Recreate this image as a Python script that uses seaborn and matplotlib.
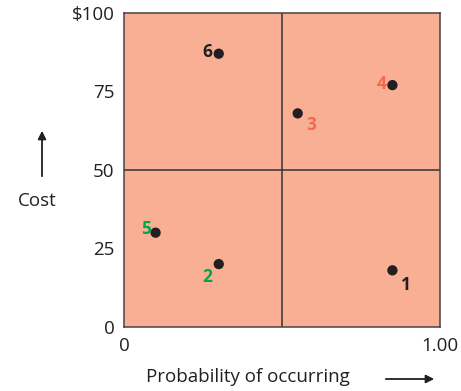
import matplotlib
matplotlib.use("Agg")
import matplotlib.pyplot as plt
import seaborn as sns
import pandas as pd

# risk points
labels = ["1", "2", "3", "4", "5", "6"]
prob = [0.85, 0.30, 0.55, 0.85, 0.10, 0.30]
cost = [18, 20, 68, 77, 30, 87]
label_colors = ["#231F20", "#00A651", "#F26A4B", "#F26A4B", "#00A651", "#231F20"]
y_ticks = [0, 25, 50, 75, 100]
y_tick_labels = ["0", "25", "50", "75", "$100"]
x_ticks = [0, 1]
x_tick_labels = ["0", "1.00"]

df = pd.DataFrame({"label": labels, "prob": prob, "cost": cost})

sns.set_style("white")
plt.rcParams["font.family"] = ["Open Sans", "DejaVu Sans"]

fig = plt.figure(figsize=(4.61, 3.91), dpi=100)
ax = fig.add_axes([0.269, 0.164, 0.685, 0.803])
ax.set_facecolor("#F8AF94")

# quadrant lines
ax.axvline(0.5, color="#333333", lw=1.1, zorder=1)
ax.axhline(50, color="#333333", lw=1.1, zorder=1)

sns.scatterplot(data=df, x="prob", y="cost", ax=ax, color="#231F20",
                s=55, edgecolor="none", zorder=3, legend=False)

# label offsets in points (dx, dy, ha, va)
offsets = {
    "1": (6, -4, "left", "top"),
    "2": (-5, -3, "right", "top"),
    "3": (6, -2, "left", "top"),
    "4": (-4, 1, "right", "center"),
    "5": (-3, 3, "right", "center"),
    "6": (-5, 1, "right", "center"),
}
for lab, x, y, c in zip(labels, prob, cost, label_colors):
    dx, dy, ha, va = offsets[lab]
    ax.annotate(lab, (x, y), xytext=(dx, dy), textcoords="offset points",
                ha=ha, va=va, color=c, fontsize=12.5, fontweight="bold", zorder=4)

ax.set_xlim(0, 1)
ax.set_ylim(0, 100)
ax.set_xticks(x_ticks)
ax.set_xticklabels(x_tick_labels)
ax.set_yticks(y_ticks)
ax.set_yticklabels(y_tick_labels)
ax.tick_params(axis="both", length=0, labelsize=13.5, colors="#231F20", pad=7)
ax.set_xlabel("")
ax.set_ylabel("")
for sp in ax.spines.values():
    sp.set_visible(True)
    sp.set_color("#444444")
    sp.set_linewidth(1.1)

# axis captions with arrows
fig.text(37 / 461, 1 - 201 / 391, "Cost", ha="center", va="center",
         fontsize=13.5, color="#231F20")
ax.annotate("", xy=(42 / 461, 1 - 128 / 391), xytext=(42 / 461, 1 - 179 / 391),
            xycoords="figure fraction", textcoords="figure fraction",
            arrowprops=dict(arrowstyle="-|>", color="#231F20", lw=1.3,
                            mutation_scale=12))
fig.text(248 / 461, 1 - 377 / 391, "Probability of occurring", ha="center",
         va="center", fontsize=13.5, color="#231F20")
ax.annotate("", xy=(437 / 461, 1 - 379 / 391), xytext=(383 / 461, 1 - 379 / 391),
            xycoords="figure fraction", textcoords="figure fraction",
            arrowprops=dict(arrowstyle="-|>", color="#231F20", lw=1.3,
                            mutation_scale=12))

fig.savefig("out.png", dpi=100)
